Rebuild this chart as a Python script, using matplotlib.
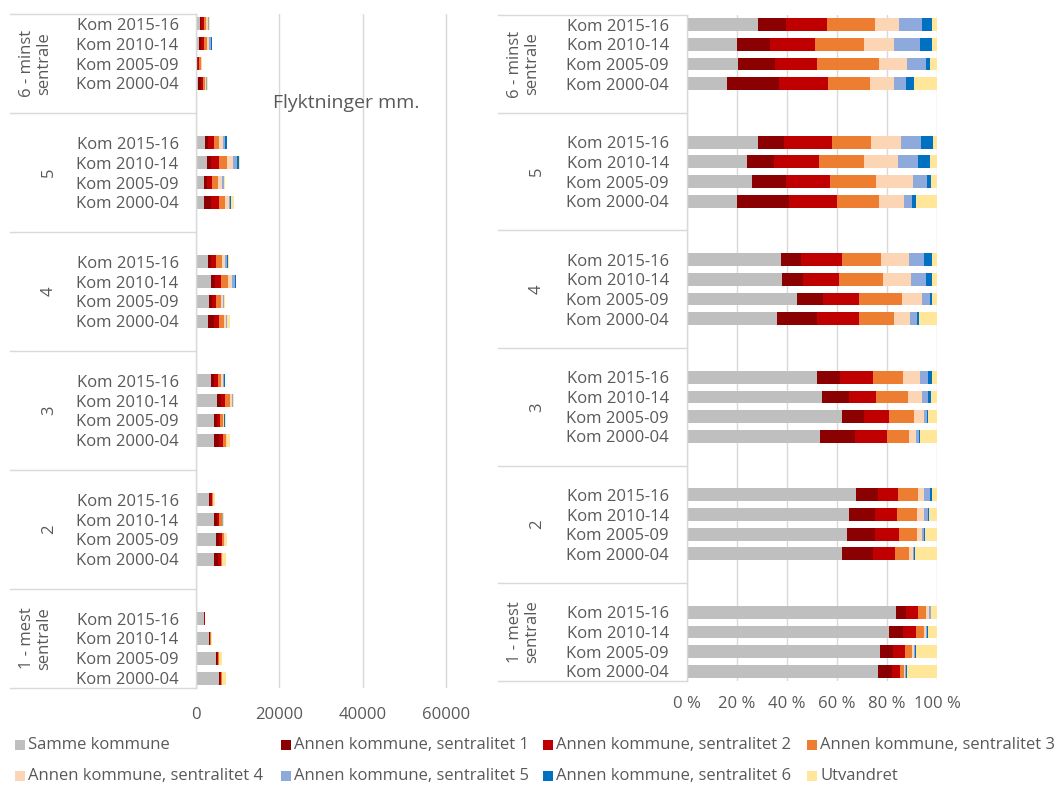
import numpy as np
import matplotlib
matplotlib.use("Agg")
import matplotlib.pyplot as plt
from matplotlib.patches import Rectangle
from matplotlib.lines import Line2D
import matplotlib.transforms as mtransforms

plt.rcParams['font.family'] = ['Open Sans', 'DejaVu Sans']

# ---------------- data ----------------
groups = ["6 - minst\nsentrale", "5", "4", "3", "2", "1 - mest\nsentrale"]
periods = ["Kom 2015-16", "Kom 2010-14", "Kom 2005-09", "Kom 2000-04"]
series_names = ["Samme kommune",
                "Annen kommune, sentralitet 1",
                "Annen kommune, sentralitet 2",
                "Annen kommune, sentralitet 3",
                "Annen kommune, sentralitet 4",
                "Annen kommune, sentralitet 5",
                "Annen kommune, sentralitet 6",
                "Utvandret"]
colors = ["#BFBFBF", "#8B0000", "#C00000", "#ED7D31",
          "#FCD5B4", "#8EA9DB", "#0070C0", "#FFE699"]

# shares (%) per row: group 6 (2015-16, 2010-14, 2005-09, 2000-04), group 5, ... group 1
samme = [28.5, 19.9, 20.5, 16.1, 28.5, 23.9, 26.1, 20.1, 37.5, 38.1, 44.1, 35.9,
         52.1, 53.9, 61.9, 53.1, 67.5, 64.8, 64.0, 62.1, 83.5, 80.7, 77.1, 76.4]
sent1 = [11.1, 13.2, 14.7, 20.7, 10.3, 10.9, 13.5, 20.7, 8.0, 8.3, 10.3, 16.1,
         9.1, 10.9, 8.9, 14.0, 8.9, 10.5, 11.3, 12.3, 4.1, 5.8, 5.3, 5.6]
sent2 = [16.4, 18.2, 16.8, 19.6, 19.1, 18.0, 17.5, 19.2, 16.5, 14.5, 14.5, 16.7,
         13.2, 10.9, 10.1, 12.9, 8.0, 8.7, 9.6, 8.9, 4.7, 5.1, 4.9, 3.1]
sent3 = [19.2, 19.6, 24.7, 16.9, 15.8, 17.9, 18.5, 16.9, 15.6, 17.4, 17.0, 14.2,
         11.9, 12.6, 10.0, 8.9, 7.9, 8.1, 7.1, 5.4, 3.3, 3.3, 2.8, 1.7]
sent4 = [9.6, 11.9, 11.3, 9.5, 11.9, 13.6, 14.9, 10.0, 11.3, 11.3, 8.0, 6.3,
         6.9, 5.7, 3.8, 2.7, 2.5, 2.8, 2.0, 1.7, 1.2, 0.7, 0.7, 0.4]
sent5 = [9.1, 10.4, 7.6, 4.7, 8.0, 8.2, 5.4, 3.2, 6.0, 6.0, 3.2, 2.8,
         3.3, 2.5, 1.3, 1.1, 2.3, 1.5, 0.9, 0.5, 0.7, 0.5, 0.4, 0.4]
sent6 = [4.2, 4.7, 1.7, 3.2, 4.9, 4.7, 1.6, 1.4, 3.0, 2.3, 0.9, 0.9,
         1.6, 1.1, 0.4, 0.5, 0.9, 0.4, 0.4, 0.4, 0.2, 0.2, 0.4, 0.4]
utvandret = [1.9, 2.1, 2.7, 9.3, 1.5, 2.8, 2.5, 8.5, 2.1, 2.1, 2.0, 7.1,
             1.9, 2.4, 3.6, 6.8, 2.0, 3.2, 4.7, 8.7, 2.3, 3.7, 8.4, 12.0]
# totals (persons) per row, left panel
totals = [3300, 3850, 1500, 2950, 7450, 10650, 6900, 9100, 7900, 9700, 6900, 8100,
          7050, 9200, 7100, 8100, 4500, 6700, 7350, 7100, 2250, 3750, 6150, 7100]

left_ticks = [0, 20000, 40000, 60000]
right_ticks = [0, 20, 40, 60, 80, 100]
title_text = "Flyktninger mm."

# ---------------- derived ----------------
shares = np.array([samme, sent1, sent2, sent3, sent4, sent5, sent6, utvandret], dtype=float)
shares = shares / shares.sum(axis=0) * 100.0
absolute = shares / 100.0 * np.array(totals, dtype=float)

ypos = np.array([6 * g + j for g in range(len(groups)) for j in range(len(periods))])
row_labels = [p for g in groups for p in periods]

W, H = 1064, 787
fig = plt.figure(figsize=(W / 100, H / 100), dpi=100)

def rect(x0, y0, x1, y1):
    return [x0 / W, 1 - y1 / H, (x1 - x0) / W, (y1 - y0) / H]

TXT = "#595959"
GRID = "#D9D9D9"
FS = 12
bar_h = 0.66

axL = fig.add_axes(rect(196, 14, 471, 688))
axR = fig.add_axes(rect(687, 15, 937, 681))

def style(ax):
    for s in ["top", "right", "bottom"]:
        ax.spines[s].set_visible(False)
    ax.spines["left"].set_color(GRID)
    ax.spines["left"].set_linewidth(1.0)
    ax.set_ylim(33.5, -0.5)
    ax.xaxis.grid(True, color=GRID, linewidth=1.0)
    ax.set_axisbelow(True)
    ax.tick_params(axis="both", length=0, labelcolor=TXT, labelsize=FS)

# left panel: absolute
left = np.zeros(len(ypos))
for k in range(len(series_names)):
    axL.barh(ypos, absolute[k], left=left, height=bar_h, color=colors[k], linewidth=0)
    left += absolute[k]
style(axL)
axL.set_xlim(0, 66000)
axL.set_xticks(left_ticks)
axL.set_xticklabels([str(t) for t in left_ticks])
axL.tick_params(axis="x", pad=14)
axL.set_yticks(ypos)
axL.set_yticklabels(row_labels)
axL.tick_params(axis="y", pad=12.5)
axL.text(36000, 4.0, title_text, ha="center", va="center", fontsize=14, color=TXT)

# right panel: shares
left = np.zeros(len(ypos))
for k in range(len(series_names)):
    axR.barh(ypos, shares[k] / 100.0, left=left, height=bar_h, color=colors[k], linewidth=0)
    left += shares[k] / 100.0
style(axR)
axR.set_xlim(0, 1)
axR.set_xticks([t / 100 for t in right_ticks])
axR.set_xticklabels([f"{t} %" for t in right_ticks])
axR.tick_params(axis="x", pad=11)
axR.set_yticks(ypos)
axR.set_yticklabels(row_labels)
axR.tick_params(axis="y", pad=13)

# group separators and labels
bounds = [-0.5, 4.5, 10.5, 16.5, 22.5, 28.5, 33.5]
centers = [2, 7.5, 13.5, 19.5, 25.5, 31]
for ax, xs, xe, x2, x1 in [(axL, 10, 196, 36, 49), (axR, 498, 687, 524, 537)]:
    tr = mtransforms.blended_transform_factory(fig.transFigure, ax.transData)
    for b in bounds:
        fig.add_artist(Line2D([xs / W, xe / W], [b, b], transform=tr, color=GRID, linewidth=1.0))
    for g, c in zip(groups, centers):
        xc = x2 if "\n" in g else x1
        fig.text(xc / W, c, g, transform=tr, rotation=90, ha="center", va="center",
                 fontsize=FS, color=TXT, multialignment="center", linespacing=1.1)

# legend
leg_pos = [(15, 745), (281, 745), (543, 745), (807, 745),
           (15, 776), (281, 776), (543, 776), (807, 776)]
for (lx, ly), name, col in zip(leg_pos, series_names, colors):
    fig.add_artist(Rectangle((lx / W, 1 - (ly + 5) / H), 10 / W, 10 / H,
                             transform=fig.transFigure, color=col, linewidth=0))
    fig.text((lx + 13) / W, 1 - ly / H, name, ha="left", va="center",
             fontsize=FS, color=TXT)

fig.savefig("out.png", dpi=100)
